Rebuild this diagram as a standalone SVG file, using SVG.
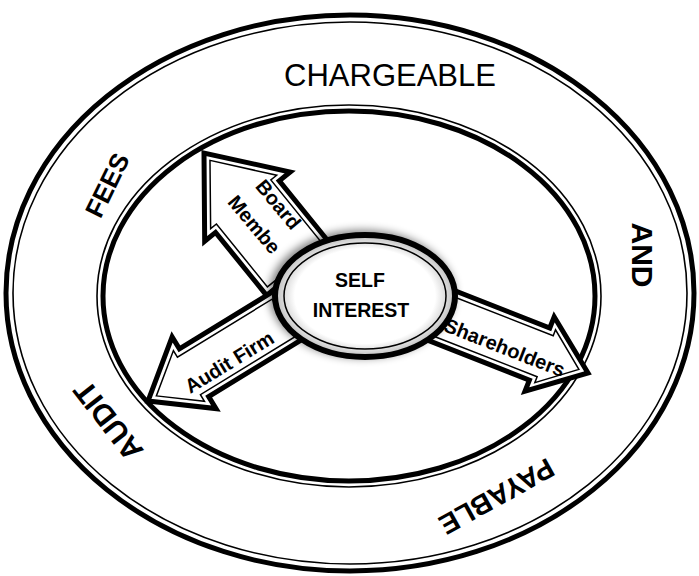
<svg xmlns="http://www.w3.org/2000/svg" width="699" height="576" viewBox="0 0 699 576">
<defs>
<style>
.thick{fill:none;stroke:#000;stroke-width:5}
.thin{fill:none;stroke:#000;stroke-width:1.6}
.aout{fill:#fff;stroke:#000;stroke-width:5;stroke-linejoin:miter}
.ain{fill:none;stroke:#000;stroke-width:1.5;stroke-linejoin:miter}
.lbl{font-family:"Liberation Sans",Arial,sans-serif;font-weight:bold;fill:#000;text-anchor:middle}
.at{font-family:"Liberation Sans",Arial,sans-serif;font-weight:bold;font-size:20px;fill:#000;text-anchor:middle}
</style>
<filter id="sh" x="-20%" y="-20%" width="140%" height="140%">
<feGaussianBlur in="SourceAlpha" stdDeviation="4"/>
<feOffset dx="-3" dy="-2" result="b"/>
<feComponentTransfer><feFuncA type="linear" slope="0.5"/></feComponentTransfer>
<feMerge><feMergeNode/><feMergeNode in="SourceGraphic"/></feMerge>
</filter>
<radialGradient id="cg" cx="50%" cy="50%" r="50%">
<stop offset="0.78" stop-color="#fff"/>
<stop offset="1" stop-color="#bdbdbd"/>
</radialGradient>
</defs>
<rect width="699" height="576" fill="#fff"/>

<g id="outer-ring">
<ellipse class="thick" cx="350" cy="293" rx="344" ry="278"/>
<ellipse class="thin" cx="350" cy="293" rx="337" ry="271"/>
</g>
<g id="inner-ring">
<ellipse class="thin" cx="349" cy="296" rx="252" ry="191"/>
<ellipse class="thick" cx="349" cy="296" rx="246" ry="185"/>
</g>

<g id="connectors">
<g id="arrow-board" transform="translate(204,153) rotate(-129)">
<polygon class="aout" points="0,0 -69,-55 -69,-41 -150,-41 -150,41 -69,41 -69,55"/>
<polygon class="ain" points="-9.5,0 -63,-42.5 -63,-35 -144,-35 -144,35 -63,35 -63,42.5"/>
</g>
<g id="arrow-audit" transform="translate(148,401) rotate(148.5)">
<polygon class="aout" points="0,0 -54,-42 -54,-28 -165,-28 -165,28 -54,28 -54,42"/>
<polygon class="ain" points="-9.8,0 -48,-29.7 -48,-22 -159,-22 -159,22 -48,22 -48,29.7"/>
</g>
<g id="arrow-share" transform="translate(588,373) rotate(21.4)">
<polygon class="aout" points="0,0 -52,-40 -52,-28 -165,-28 -165,28 -52,28 -52,40"/>
<polygon class="ain" points="-9.8,0 -46,-28.4 -46,-22 -159,-22 -159,22 -46,22 -46,28.4"/>
</g>
</g>

<g id="self-interest">
<ellipse cx="365" cy="296" rx="90" ry="61" fill="url(#cg)" stroke="#000" stroke-width="6" filter="url(#sh)"/>
<ellipse cx="365" cy="296" rx="81" ry="53" fill="none" stroke="#000" stroke-width="1.5"/>
<text class="lbl" x="360" y="287" font-size="19.5">SELF</text>
<text class="lbl" x="361" y="317" font-size="19.5">INTEREST</text>
</g>

<g id="label-board">
<text class="at" transform="translate(273,209) rotate(50)">Board</text>
<text class="at" transform="translate(249,229) rotate(50)">Membe</text>
</g>
<g id="label-audit-firm">
<text class="at" transform="translate(233,368) rotate(-31.5)">Audit Firm</text>
</g>
<g id="label-shareholders">
<text class="at" transform="translate(502,354) rotate(21.4)">Shareholders</text>
</g>

<g id="ring-labels">
<text x="390" y="86" font-family="Liberation Sans, Arial, sans-serif" font-size="31" text-anchor="middle">CHARGEABLE</text>
<text class="lbl" font-size="26" transform="translate(115.4,189.1) rotate(-64)">FEES</text>
<text class="lbl" font-size="30" transform="translate(632,255) rotate(90)">AND</text>
<text class="lbl" font-size="30" transform="translate(116.4,414.4) rotate(-128)">AUDIT</text>
<text class="lbl" font-size="28" transform="translate(492,488) rotate(151)">PAYABLE</text>
</g>
</svg>
